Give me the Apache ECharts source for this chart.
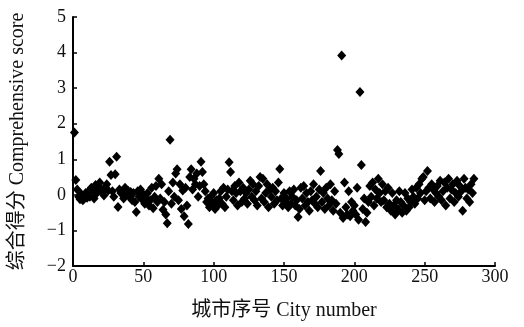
<!DOCTYPE html>
<html>
<head>
<meta charset="utf-8">
<script src="https://cdn.jsdelivr.net/npm/echarts@6/dist/echarts.min.js"></script>
<style>html,body{margin:0;padding:0;background:#fff}#c{width:524px;height:327px}</style>
</head>
<body>
<div id="c"></div>
<script>
// City numbers 1..N and comprehensive scores
var scores = [
  1.75, 0.42, 0.15, -0.05, -0.12, 0.02, -0.15, -0.1, 0.05, -0.08,
  0.1, -0.05, 0.2, 0.12, -0.1, 0.28, 0.05, 0.18, 0.35, 0.15,
  0.08, -0.02, 0.22, 0.3, 0.12, 0.93, 0.56, 0.1, -0.05, 0.58,
  1.07, -0.34, 0.15, 0.05, 0.1, -0.1, 0.2, 0.02, 0.12, -0.05,
  0.08, -0.15, 0.05, -0.2, -0.48, 0.1, -0.05, 0.15, -0.12, 0.02,
  -0.25, -0.1, 0.05, -0.3, -0.15, 0.2, -0.38, -0.05, 0.25, -0.2,
  0.45, -0.1, 0.3, -0.42, -0.2, -0.55, -0.8, 0.1, 1.55, -0.25,
  0.35, -0.05, 0.6, 0.72, -0.15, 0.3, -0.4, 0.12, -0.6, 0.2,
  -0.3, -0.82, 0.5, 0.72, 0.15, 0.45, 0.3, 0.6, -0.05, 0.25,
  0.93, 0.64, 0.3, 0.1, -0.2, -0.1, -0.35, -0.05, -0.25, 0.05,
  -0.4, -0.15, -0.3, -0.1, 0.1, -0.25, 0.2, -0.35, -0.05, 0.15,
  0.92, 0.64, 0.1, -0.15, 0.25, 0.05, -0.3, 0.35, 0.1, -0.2,
  0.2, -0.1, 0.05, -0.25, 0.15, 0.4, -0.05, 0.3, -0.15, 0.1,
  -0.3, 0.25, 0.5, -0.1, 0.45, -0.2, 0.05, 0.3, -0.35, 0.15,
  -0.05, 0.2, -0.25, 0.1, -0.15, 0.35, 0.73, -0.1, -0.3, 0.05,
  -0.2, -0.1, -0.35, 0.1, -0.25, -0.05, 0.15, -0.3, -0.15, -0.62,
  -0.4, 0.2, -0.1, 0.25, -0.3, 0.05, -0.2, -0.45, 0.1, -0.15,
  0.3, -0.25, -0.05, -0.35, 0.15, 0.67, -0.2, 0.05, -0.4, 0.2,
  -0.1, -0.3, 0.3, -0.15, -0.45, 0.1, -0.25, 1.26, 1.15, -0.5,
  3.92, -0.65, 0.35, -0.35, -0.55, 0.1, -0.6, -0.2, -0.45, -0.3,
  -0.55, 0.2, -0.7, 2.89, 0.84, -0.4, -0.1, -0.76, -0.5, -0.2,
  0.25, -0.05, 0.35, -0.3, 0.15, -0.1, 0.45, 0.05, -0.2, 0.3,
  -0.15, 0.1, -0.35, 0.2, -0.25, -0.45, 0.05, -0.3, -0.55, -0.15,
  -0.4, 0.1, -0.2, -0.5, -0.3, 0.05, -0.45, -0.1, -0.35, -0.2,
  0.15, -0.05, -0.25, 0.2, -0.1, 0.3, 0.05, 0.45, 0.5, -0.15,
  0.1, 0.67, 0.2, -0.1, 0.3, 0.15, -0.2, 0.05, 0.25, -0.05,
  0.4, -0.15, 0.1, 0.35, -0.3, 0.2, 0.45, -0.1, 0.15, 0.3,
  -0.2, 0.05, 0.4, -0.05, 0.25, 0.1, -0.45, 0.45, 0.2, -0.1,
  0.15, -0.2, 0.3, 0.05, 0.45
];
var cityNumbers = scores.map(function (v, i) { return i + 1; });
var xTitle = '城市序号 City number';
var yTitle = '综合得分 Comprehensive score';

var points = cityNumbers.map(function (c, i) { return [c, scores[i]]; });
var FONT = '"Liberation Serif", "Times New Roman", "Noto Sans CJK SC", serif';

var chart = echarts.init(document.getElementById('c'), null, {renderer: 'canvas'});
chart.setOption({
  animation: false,
  backgroundColor: '#fff',
  grid: {left: 66, right: 29, top: 17, bottom: 61, containLabel: false},
  xAxis: {
    type: 'value', min: 0, max: 300, interval: 50,
    name: xTitle, nameLocation: 'middle', nameGap: 35,
    nameTextStyle: {fontFamily: FONT, fontSize: 20, color: '#111'},
    axisLine: {show: true, onZero: false, lineStyle: {color: '#000', width: 2}},
    axisTick: {show: true, inside: true, length: 4, lineStyle: {color: '#000', width: 1.5}},
    axisLabel: {fontFamily: FONT, fontSize: 18, color: '#111', margin: 2},
    splitLine: {show: false}
  },
  yAxis: {
    type: 'value', min: -2, max: 5, interval: 1,
    name: yTitle, nameLocation: 'middle', nameGap: 45, nameRotate: 90,
    nameTextStyle: {fontFamily: FONT, fontSize: 20, color: '#111'},
    axisLine: {show: true, onZero: false, lineStyle: {color: '#000', width: 2}},
    axisTick: {show: true, inside: true, length: 4, lineStyle: {color: '#000', width: 1.5}},
    axisLabel: {fontFamily: FONT, fontSize: 18, color: '#111', margin: 7,
      formatter: function (v) { return String(v).replace('-', '\u2212'); }},
    splitLine: {show: false}
  },
  series: [{
    type: 'scatter',
    data: points,
    symbol: 'diamond',
    symbolSize: [9, 10],
    itemStyle: {color: '#000', opacity: 1},
    silent: true
  }]
});
</script>
</body>
</html>
